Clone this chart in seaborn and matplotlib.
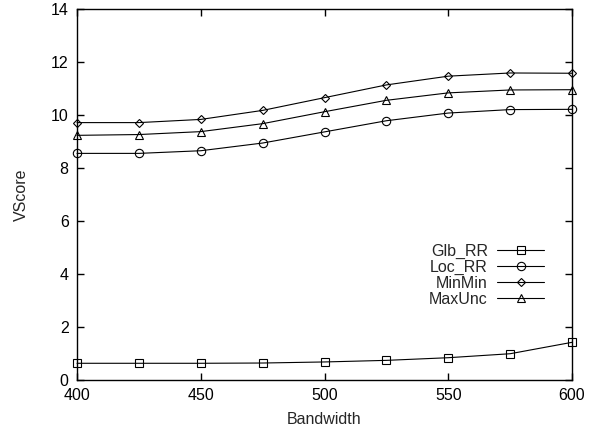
import matplotlib
matplotlib.use("Agg")
import matplotlib.pyplot as plt
import seaborn as sns
import pandas as pd

bandwidth = [400, 425, 450, 475, 500, 525, 550, 575, 600]
glb_rr = [0.63, 0.63, 0.63, 0.64, 0.68, 0.74, 0.84, 0.99, 1.42]
loc_rr = [8.54, 8.54, 8.64, 8.93, 9.35, 9.77, 10.06, 10.19, 10.20]
minmin = [9.70, 9.70, 9.82, 10.16, 10.64, 11.12, 11.45, 11.57, 11.56]
maxunc = [9.22, 9.25, 9.36, 9.66, 10.11, 10.54, 10.82, 10.93, 10.94]

series_names = ["Glb_RR", "Loc_RR", "MinMin", "MaxUnc"]
series_values = [glb_rr, loc_rr, minmin, maxunc]
series_markers = ["s", "o", "D", "^"]
marker_sizes = [6, 6, 4.5, 5.5]

sns.set_style("ticks")
plt.rcParams["font.family"] = ["Liberation Sans", "DejaVu Sans"]
plt.rcParams["font.size"] = 11.5

rows = []
for name, vals in zip(series_names, series_values):
    for x, y in zip(bandwidth, vals):
        rows.append({"Bandwidth": x, "VScore": y, "Series": name})
df = pd.DataFrame(rows)

fig = plt.figure(figsize=(6.03, 4.33), dpi=100)
ax = fig.add_axes([77 / 603, 53 / 433, 495 / 603, 371.5 / 433])

for name, mk, ms in zip(series_names, series_markers, marker_sizes):
    sub = df[df["Series"] == name]
    sns.lineplot(data=sub, x="Bandwidth", y="VScore", ax=ax, color="black",
                 linewidth=0.8, marker=mk, markersize=ms, markerfacecolor="none",
                 markeredgecolor="black", markeredgewidth=0.8, label=name,
                 clip_on=False)

ax.set_xlim(400, 600)
ax.set_ylim(0, 14)
ax.set_xticks([400, 450, 500, 550, 600])
ax.set_yticks([0, 2, 4, 6, 8, 10, 12, 14])
ax.tick_params(direction="in", length=5, width=1, top=True, right=True,
               labelsize=11.5, colors="black", pad=6)
for sp in ax.spines.values():
    sp.set_linewidth(1.0)
    sp.set_color("black")
    sp.set_visible(True)

ax.set_xlabel("Bandwidth", fontsize=11.5, labelpad=6)
ax.set_ylabel("VScore", fontsize=11.5, labelpad=16)

leg = ax.legend(loc="upper right", bbox_to_anchor=(0.943, 0.366),
                frameon=False, markerfirst=False, handlelength=2.9,
                handletextpad=0.6, labelspacing=0.05, borderaxespad=0,
                borderpad=0, fontsize=11.5)

fig.savefig("out.png", dpi=100)
